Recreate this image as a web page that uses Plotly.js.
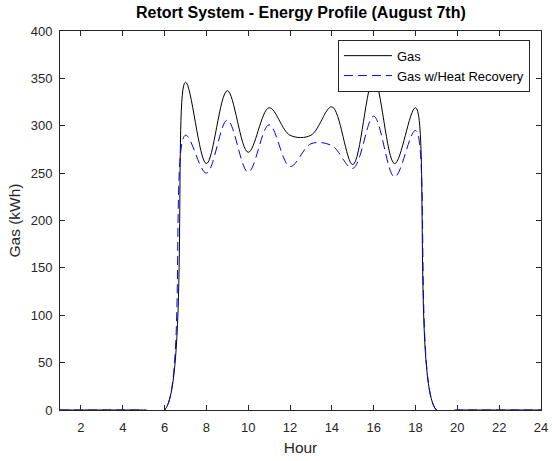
<!DOCTYPE html>
<html><head><meta charset="utf-8">
<script src="https://cdn.plot.ly/plotly-3.0.1.min.js"></script>
<style>html,body{margin:0;padding:0;background:#fff}#chart{width:552px;height:461px}</style>
</head><body><div id="chart"></div>
<script>
const hours = [1,2,3,4,5,6,7,8,9,10,11,12,13,14,15,16,17,18,19,20,21,22,23,24];
const gas   = [0,0,0,0,0,0,346,260,337,272,319,290,290,320,259,350,260,319,0,0,0,0,0,0];
const gasHR = [0,0,0,0,0,0,290,250,306,251,301,257,281,279,255,310,246,295,0,0,0,0,0,0];
const xTicks = [2,4,6,8,10,12,14,16,18,20,22,24];
const yTicks = [0,50,100,150,200,250,300,350,400];
const seriesNames = ['Gas','Gas w/Heat Recovery'];

const font = 'Liberation Sans, Arial, sans-serif';
const traces = [
  {x:hours, y:gas, name:seriesNames[0], mode:'lines', line:{color:'#000000', width:1, shape:'spline', smoothing:1}},
  {x:hours, y:gasHR, name:seriesNames[1], mode:'lines', line:{color:'#0000ff', width:1, dash:'9px,5px', shape:'spline', smoothing:1}}
];
const axisCommon = {
  showline:true, mirror:'ticks', linecolor:'#262626', linewidth:1,
  ticks:'inside', ticklen:5, tickcolor:'#262626', tickwidth:1,
  showgrid:false, zeroline:false,
  tickfont:{family:font, size:13, color:'#262626'}
};
const layout = {
  width:552, height:461,
  margin:{l:60, r:11, t:31, b:51},
  paper_bgcolor:'#ffffff', plot_bgcolor:'#ffffff',
  title:{text:'<b>Retort System - Energy Profile (August 7th)</b>', font:{family:font, size:16, color:'#000'}, x:0.545, xanchor:'center', y:0.985, yanchor:'top'},
  xaxis:Object.assign({}, axisCommon, {range:[1,24], tickvals:xTicks, ticktext:xTicks.map(String), ticklabelstandoff:5,
    title:{text:'Hour', font:{family:font, size:15.5, color:'#262626'}, standoff:8}}),
  yaxis:Object.assign({}, axisCommon, {range:[0,400], tickvals:yTicks, ticktext:yTicks.map(String), ticklabelstandoff:4,
    title:{text:'Gas (kWh)', font:{family:font, size:15.5, color:'#262626'}, standoff:6}}),
  showlegend:true,
  legend:{x:0.977, xanchor:'right', y:0.977, yanchor:'top', bgcolor:'#ffffff', bordercolor:'#262626', borderwidth:1,
    font:{family:font, size:13, color:'#000'}, tracegroupgap:0, itemwidth:48}
};
Plotly.newPlot('chart', traces, layout, {displayModeBar:false, staticPlot:true});
</script></body></html>
